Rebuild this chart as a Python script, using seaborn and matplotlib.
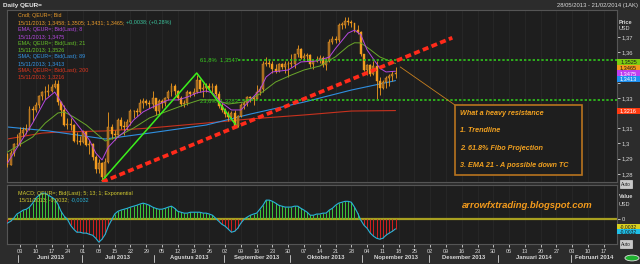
import numpy as np
import pandas as pd
import matplotlib
matplotlib.use("Agg")
import matplotlib.pyplot as plt
import seaborn as sns
from matplotlib.patches import Rectangle, Circle
from matplotlib.transforms import blended_transform_factory as btf

# ---------------- data ----------------
start_date, last_candle, axis_end = "2013-05-28", "2013-11-15", "2014-02-21"

opens = [1.2930,1.2860,1.2940,1.2995,1.2995,1.3070,1.3085,1.3095,1.3225,1.3220,
         1.3255,1.3310,1.3340,1.3335,1.3345,1.3370,1.3390,1.3275,1.3220,1.3120,
         1.3125,1.3120,1.3015,1.3015,1.3010,1.3075,1.2990,1.2995,1.2910,1.2830,
         1.2870,1.2780,1.2880,1.3110,1.3065,1.3055,1.3155,1.3115,1.3110,1.3140,
         1.3215,1.3210,1.3205,1.3265,1.3280,1.3265,1.3260,1.3300,1.3215,1.3280,
         1.3265,1.3300,1.3335,1.3375,1.3345,1.3300,1.3260,1.3265,1.3340,1.3325,
         1.3335,1.3420,1.3355,1.3365,1.3380,1.3365,1.3380,1.3325,1.3245,1.3220,
         1.3195,1.3175,1.3200,1.3115,1.3180,1.3255,1.3265,1.3305,1.3300,1.3295,
         1.3335,1.3360,1.3520,1.3530,1.3525,1.3490,1.3475,1.3520,1.3500,1.3520,
         1.3525,1.3525,1.3585,1.3620,1.3560,1.3575,1.3580,1.3520,1.3545,1.3550,
         1.3565,1.3515,1.3540,1.3670,1.3685,1.3680,1.3780,1.3780,1.3805,1.3800,
         1.3790,1.3745,1.3735,1.3585,1.3485,1.3515,1.3455,1.3510,1.3410,1.3365,
         1.3405,1.3430,1.3445,1.3458]
highs = [1.2940,1.2955,1.3005,1.3060,1.3110,1.3105,1.3125,1.3245,1.3245,1.3270,
         1.3320,1.3345,1.3380,1.3390,1.3390,1.3415,1.3415,1.3280,1.3250,1.3170,
         1.3165,1.3130,1.3075,1.3050,1.3085,1.3080,1.3025,1.3000,1.2925,1.2895,
         1.2880,1.2905,1.3205,1.3125,1.3085,1.3170,1.3175,1.3150,1.3160,1.3225,
         1.3220,1.3230,1.3295,1.3300,1.3290,1.3285,1.3345,1.3300,1.3295,1.3290,
         1.3305,1.3350,1.3400,1.3390,1.3350,1.3315,1.3285,1.3350,1.3345,1.3365,
         1.3452,1.3425,1.3395,1.3395,1.3395,1.3400,1.3390,1.3345,1.3265,1.3230,
         1.3215,1.3215,1.3220,1.3190,1.3265,1.3280,1.3315,1.3315,1.3310,1.3385,
         1.3380,1.3545,1.3570,1.3555,1.3540,1.3525,1.3530,1.3530,1.3540,1.3545,
         1.3590,1.3590,1.3645,1.3625,1.3595,1.3595,1.3590,1.3550,1.3575,1.3580,
         1.3575,1.3560,1.3685,1.3705,1.3705,1.3795,1.3800,1.3830,1.3832,1.3810,
         1.3795,1.3780,1.3740,1.3590,1.3525,1.3525,1.3540,1.3545,1.3440,1.3415,
         1.3445,1.3455,1.3475,1.3505]
lows = [1.2845,1.2860,1.2920,1.2975,1.2985,1.3040,1.3060,1.3085,1.3150,1.3205,
        1.3230,1.3285,1.3295,1.3310,1.3335,1.3365,1.3255,1.3180,1.3115,1.3095,
        1.3085,1.3010,1.2995,1.2990,1.3000,1.2985,1.2930,1.2890,1.2805,1.2805,
        1.2755,1.2770,1.2870,1.3030,1.3025,1.3040,1.3095,1.3055,1.3085,1.3120,
        1.3170,1.3180,1.3200,1.3235,1.3250,1.3230,1.3235,1.3190,1.3190,1.3230,
        1.3245,1.3285,1.3315,1.3320,1.3285,1.3245,1.3240,1.3255,1.3305,1.3315,
        1.3330,1.3335,1.3305,1.3340,1.3355,1.3340,1.3310,1.3235,1.3205,1.3175,
        1.3145,1.3165,1.3105,1.3105,1.3175,1.3225,1.3245,1.3270,1.3255,1.3290,
        1.3320,1.3335,1.3510,1.3500,1.3460,1.3460,1.3470,1.3490,1.3460,1.3440,
        1.3505,1.3495,1.3570,1.3555,1.3540,1.3545,1.3505,1.3490,1.3535,1.3530,
        1.3505,1.3485,1.3535,1.3655,1.3660,1.3670,1.3755,1.3760,1.3780,1.3765,
        1.3735,1.3720,1.3575,1.3475,1.3450,1.3445,1.3450,1.3295,1.3320,1.3355,
        1.3365,1.3375,1.3410,1.3431]
closes = [1.2860,1.2940,1.2995,1.2995,1.3070,1.3085,1.3095,1.3225,1.3220,1.3255,
          1.3310,1.3340,1.3335,1.3345,1.3370,1.3390,1.3275,1.3220,1.3120,1.3125,
          1.3120,1.3015,1.3015,1.3010,1.3075,1.2990,1.2995,1.2910,1.2830,1.2870,
          1.2780,1.2880,1.3110,1.3065,1.3055,1.3155,1.3115,1.3110,1.3140,1.3215,
          1.3210,1.3205,1.3265,1.3280,1.3265,1.3260,1.3300,1.3215,1.3280,1.3265,
          1.3300,1.3335,1.3375,1.3345,1.3300,1.3260,1.3265,1.3340,1.3325,1.3335,
          1.3420,1.3355,1.3365,1.3380,1.3365,1.3380,1.3325,1.3245,1.3220,1.3195,
          1.3175,1.3200,1.3115,1.3180,1.3255,1.3265,1.3305,1.3300,1.3295,1.3335,
          1.3360,1.3520,1.3530,1.3525,1.3490,1.3475,1.3520,1.3500,1.3520,1.3525,
          1.3525,1.3585,1.3620,1.3560,1.3575,1.3580,1.3520,1.3545,1.3550,1.3565,
          1.3515,1.3540,1.3670,1.3685,1.3680,1.3780,1.3780,1.3805,1.3800,1.3790,
          1.3745,1.3735,1.3585,1.3485,1.3515,1.3455,1.3510,1.3410,1.3365,1.3405,
          1.3430,1.3445,1.3458,1.3465]

ema8_days = [0,4,8,12,15,18,21,24,26,28,30,32,35,37,40,43,46,51,54,57,
             60,63,65,68,71,74,77,80,82,84,89,93,98,102,104,108,110,112,114,116,
             118,120,123]
ema8_vals = [1.2871,1.3003,1.3134,1.3286,1.3338,1.3239,1.3154,1.3075,1.3022,1.2937,
             1.2891,1.2976,1.3042,1.3075,1.3154,1.3207,1.3239,1.3286,1.3286,1.3305,
             1.3332,1.3345,1.3332,1.3266,1.3220,1.3220,1.3286,1.3351,1.3437,1.3470,
             1.3483,1.3536,1.3542,1.3568,1.3625,1.3726,1.3745,1.3715,1.3615,1.3555,
             1.3495,1.3470,1.3475]
ema21_days = [0,8,12,16,18,21,25,28,31,34,40,45,50,56,61,66,70,75,80,85,
              90,94,99,104,108,110,112,115,118,123]
ema21_vals = [1.2943,1.3042,1.3134,1.3200,1.3207,1.3174,1.3121,1.3068,1.3016,1.3036,
              1.3101,1.3167,1.3207,1.3253,1.3286,1.3286,1.3259,1.3272,1.3325,1.3404,
              1.3450,1.3483,1.3509,1.3570,1.3640,1.3662,1.3661,1.3617,1.3569,1.3526]
sma89_days = [0,13,31,45,63,77,94,109,123]
sma89_vals = [1.3108,1.3082,1.3029,1.3068,1.3121,1.3193,1.3272,1.3351,1.3413]
sma200_days = [0,11,17,31,45,63,77,94,109,123]
sma200_vals = [1.3029,1.3068,1.3075,1.3082,1.3101,1.3134,1.3161,1.3187,1.3213,1.3216]

# MACD histogram, in units of 1e-4
macd_e4 = [-13,-7,3,17,23,30,33,40,53,69,79,86,86,79,73,66,50,26,10,0,
           -20,-33,-43,-43,-46,-46,-50,-53,-63,-76,-66,-50,-23,-3,17,26,30,33,36,40,
           43,46,50,53,50,46,40,36,33,33,36,40,43,36,26,23,20,20,23,23,
           23,23,20,20,17,13,3,-7,-17,-23,-33,-43,-40,-30,-13,0,7,13,17,20,
           33,46,63,63,59,53,46,43,40,40,40,43,43,36,30,23,13,13,17,17,
           20,20,30,36,46,53,56,59,59,56,40,20,-3,-20,-30,-46,-56,-63,-66,-63,
           -53,-46,-40,-32]

fib_levels = [("61,8%", 1.3547), ("23,6%", 1.3283)]
fib_proj_days = [30, 60, 73]
fib_proj_vals = [1.2755, 1.3463, 1.3105]
trend_days = [30, 141]
trend_vals = [1.2746, 1.3695]

price_ticks = [1.28, 1.29, 1.30, 1.31, 1.32, 1.33, 1.34, 1.35, 1.36, 1.37]
hidden_ticks = [1.32, 1.34, 1.35]          # covered by the value tags in the reference
last_vals = {"ema21": 1.3525, "cndl": 1.3465, "ema8": 1.3475, "sma89": 1.3413, "sma200": 1.3216}
macd_last = -0.0032
month_names = {6: "Juni 2013", 7: "Juli 2013", 8: "Agustus 2013", 9: "September 2013",
               10: "Oktober 2013", 11: "Nopember 2013", 12: "Desember 2013",
               1: "Januari 2014", 2: "Februari 2014"}
note_lines = ["What a heavy resistance", "1. Trendline", "2. 61.8% Fibo Projection",
              "3. EMA 21 - A possible down TC"]

# ---------------- style ----------------
C_FIG = "#2c2c2c"; C_AX = "#1e1e1e"; C_GRID = "#2a2a2a"; C_SP = "#555555"
C_ORANGE = "#f39c1f"; C_UP = "#9a6424"; C_PURPLE = "#b548e0"; C_GREEN = "#6aa82a"
C_BLUE = "#2f8fe0"; C_RED = "#c8321e"; C_TXT = "#d8d8d8"

sns.set_theme(style="dark", rc={"axes.facecolor": C_AX, "figure.facecolor": C_FIG,
                                "axes.edgecolor": C_SP, "grid.color": C_GRID})
plt.rcParams['font.family'] = ['Liberation Sans', 'DejaVu Sans']

W, H = 640, 264
def fx(p): return p / W
def fy(p): return 1 - p / H

fig = plt.figure(figsize=(6.4, 2.64), dpi=100, facecolor=C_FIG)
ax = fig.add_axes([fx(7), fy(182), fx(617) - fx(7), fy(10) - fy(182)])
axm = fig.add_axes([fx(7), fy(244), fx(617) - fx(7), fy(185) - fy(244)])

dates = pd.bdate_range(start_date, last_candle)
axis_dates = pd.bdate_range(start_date, axis_end)
idx = np.arange(len(dates))
xlim = (-0.13, len(axis_dates) - 0.8)
mondays = [i for i, d in enumerate(axis_dates) if d.weekday() == 0]

for a in (ax, axm):
    a.set_facecolor(C_AX)
    a.set_xlim(*xlim)
    a.set_xticks(mondays)
    a.grid(axis="x", color=C_GRID, lw=0.5)
    a.grid(axis="y", visible=False)
    for s in a.spines.values():
        s.set_color(C_SP); s.set_linewidth(0.8)

# ---------------- price panel ----------------
o = np.array(opens); c = np.array(closes); h = np.array(highs); l = np.array(lows)
up = c >= o
ax.vlines(idx, l, h, color=C_ORANGE, lw=0.6, zorder=3)
body = np.maximum(np.abs(c - o), 0.00025)
ax.bar(idx[up], body[up], bottom=np.minimum(o, c)[up], width=0.62,
       color=C_UP, edgecolor=C_ORANGE, lw=0.3, zorder=4)
ax.bar(idx[~up], body[~up], bottom=np.minimum(o, c)[~up], width=0.62,
       color=C_ORANGE, edgecolor=C_ORANGE, lw=0.3, zorder=4)

sns.lineplot(x=sma200_days, y=sma200_vals, ax=ax, color=C_RED, lw=0.8, zorder=2)
sns.lineplot(x=sma89_days, y=sma89_vals, ax=ax, color=C_BLUE, lw=0.8, zorder=2)
sns.lineplot(x=ema21_days, y=ema21_vals, ax=ax, color=C_GREEN, lw=0.7, zorder=5)
sns.lineplot(x=ema8_days, y=ema8_vals, ax=ax, color=C_PURPLE, lw=0.7, zorder=5)

# fibonacci projection + levels
ax.plot(fib_proj_days, fib_proj_vals, color="#3cf01c", lw=1.1, zorder=6)
for name, lv in fib_levels:
    ax.hlines(lv, 73, xlim[1], color="#30c81c", lw=1.2, ls=(0, (1.4, 1.2)), zorder=6)
    ax.text(61, lv, f"{name}  {lv:.4f}".replace(".", ","), color="#3ad020",
            fontsize=4.2, va="center", ha="left", zorder=7)

# trendline
ax.plot(trend_days, trend_vals, color="#ff2a1a", lw=2.7, ls=(0, (1.6, 0.9)), zorder=7)

# annotation box
ax.plot([124.5, 141.8], [1.3503, 1.3253], color="#c8801e", lw=0.6, zorder=6)
ax.add_patch(Rectangle((141.8, 1.2793), 40.3, 1.3253 - 1.2793, fc=C_AX,
                       ec="#b8741e", lw=1.2, zorder=8))
for t, yv in zip(note_lines, [1.3195, 1.3083, 1.2965, 1.2852]):
    ax.text(143.4, yv, t, color="#f0a020", fontsize=5.2, fontstyle="italic",
            fontweight="bold", va="center", ha="left", zorder=9)

ax.set_ylim(1.27461, 1.38776)
ax.yaxis.tick_right()
ax.set_yticks(price_ticks)
ax.set_yticklabels(["" if v in hidden_ticks else f"{v:.2f}".rstrip("0").replace(".", ",")
                    for v in price_ticks])
ax.tick_params(axis="y", colors=C_TXT, labelsize=4.2, length=2.5, width=0.6, pad=1,
               right=True, labelright=True)
ax.tick_params(axis="x", length=0, labelbottom=False)
ax.set_xlabel(""); ax.set_ylabel("")

# value tags on the price axis
tr = btf(ax.transAxes, ax.transData)
bw = 23 / 610; bh = 6 / 1520
tags = [("ema21", "#7ccc10", "#1a1a1a"), ("cndl", "#f29a1c", "#1a1a1a"),
        ("ema8", "#c040f0", "#ffffff"), ("sma89", "#1e90f0", "#ffffff")]
top = 1.3536
for k, (key, fc, tc) in enumerate(tags):
    yc = top - k * bh * 0.95
    ax.add_patch(Rectangle((1.0, yc - bh / 2), bw, bh, transform=tr, fc=fc, ec="none",
                           clip_on=False, zorder=10))
    ax.text(1.0 + bw / 2, yc, f"{last_vals[key]:.4f}".replace(".", ","), transform=tr,
            color=tc, fontsize=4.0, ha="center", va="center", clip_on=False, zorder=11)
yc = last_vals["sma200"]
ax.add_patch(Rectangle((1.0, yc - bh / 2), bw, bh, transform=tr, fc="#ff3a10", ec="none",
                       clip_on=False, zorder=10))
ax.text(1.0 + bw / 2, yc, f"{yc:.4f}".replace(".", ","), transform=tr, color="#ffffff",
        fontsize=4.0, ha="center", va="center", clip_on=False, zorder=11)

# ---------------- MACD panel ----------------
macd = np.array(macd_e4) / 1e4
pos = macd >= 0
axm.vlines(idx[pos], 0, macd[pos], color="#3cc83c", lw=0.7, zorder=3)
axm.vlines(idx[~pos], 0, macd[~pos], color="#d42020", lw=0.7, zorder=3)
axm.axhline(0, color="#a8a020", lw=1.6, zorder=2)
sns.lineplot(x=idx, y=macd, ax=axm, color="#28b4d8", lw=0.8, zorder=4)
axm.set_ylim(-0.0082, 0.0113)
axm.yaxis.tick_right()
axm.set_yticks([0])
axm.set_yticklabels(["0"])
axm.tick_params(axis="y", colors=C_TXT, labelsize=4.2, length=2.5, width=0.6, pad=1)
axm.set_xticklabels([f"{axis_dates[i].day:02d}" for i in mondays])
axm.tick_params(axis="x", colors=C_TXT, labelsize=4.0, length=2, width=0.6, pad=1.5,
                bottom=True)
axm.set_xlabel(""); axm.set_ylabel("")
trm = btf(axm.transAxes, axm.transData)
mh = 5 * (0.0195 / 59)
for yc, fc, tc in [(macd_last + mh / 2, "#d8d020", "#1a1a1a"), (macd_last - mh / 2, "#20c0e8", "#1a1a1a")]:
    axm.add_patch(Rectangle((1.0, yc - mh / 2), bw, mh, transform=trm, fc=fc, ec="none",
                            clip_on=False, zorder=10))
    axm.text(1.0 + bw / 2, yc, f"{macd_last:.4f}".replace(".", ","), transform=trm,
             color=tc, fontsize=3.6, ha="center", va="center", clip_on=False, zorder=11)

# month labels and separators
trx = btf(axm.transData, axm.transAxes)
months = pd.Series(np.arange(len(axis_dates)), index=axis_dates)
for (yr, mo), grp in months.groupby([axis_dates.year, axis_dates.month]):
    if mo not in month_names or (yr == 2013 and mo < 6) or (yr == 2014 and mo > 2):
        continue
    first, last = grp.iloc[0], grp.iloc[-1]
    axm.text((first + last) / 2, -0.235, month_names[mo], transform=trx, color=C_TXT,
             fontsize=4.2, fontweight="bold", ha="center", va="center", clip_on=False)
    axm.plot([first - 0.5, first - 0.5], [-0.19, -0.30], transform=trx, color="#bbbbbb",
             lw=0.7, clip_on=False)

axm.text(144, 0.0044, "arrowfxtrading.blogspot.com", color="#f29a1c", fontsize=6.8,
         fontweight="bold", fontstyle="italic", ha="left", va="center", zorder=9)

# ---------------- header / legend texts ----------------
fig.text(fx(3), fy(5), "Daily QEUR=", color="#e8e8e8", fontsize=4.6, fontweight="bold",
         va="center", ha="left")
fig.text(fx(638), fy(5), "28/05/2013 - 21/02/2014 (1AK)", color=C_TXT, fontsize=4.2,
         va="center", ha="right")

renderer = fig.canvas.get_renderer()
def text_run(x_px, y_px, parts, size=3.9):
    """Draw coloured text segments one after another on a line."""
    x = fx(x_px)
    for t, col in parts:
        tt = fig.text(x, fy(y_px), t, color=col, fontsize=size, va="center", ha="left")
        bb = tt.get_window_extent(renderer=renderer)
        x = (bb.x1 + 2.0) / W

legend = [[("Cndl; QEUR=; Bid", "#e89a2a")],
          [("15/11/2013; 1,3458; 1,3505; 1,3431; 1,3465;", "#e89a2a"),
           ("+0,0038; (+0,28%)", "#3cc8a0")],
          [("EMA; QEUR=; Bid(Last); 8", C_PURPLE)], [("15/11/2013; 1,3475", C_PURPLE)],
          [("EMA; QEUR=; Bid(Last); 21", "#66c22a")], [("15/11/2013; 1,3526", "#66c22a")],
          [("SMA; QEUR=; Bid(Last); 89", "#3496e8")], [("15/11/2013; 1,3413", "#3496e8")],
          [("SMA; QEUR=; Bid(Last); 200", "#e0361e")], [("15/11/2013; 1,3216", "#e0361e")]]
for k, parts in enumerate(legend):
    text_run(18, 16 + k * 6.8, parts)
text_run(18, 193, [("MACD; QEUR=; Bid(Last); 5; 13; 1; Exponential", "#d4cc30")])
text_run(19, 199.5, [("15/11/2013; -0,0032;", "#d4cc30"), ("-0,0032", "#28b4d8")])

for yy, t in [(22, "Price"), (29, "USD"), (197, "Value"), (204, "USD")]:
    fig.text(fx(619), fy(yy), t, color=C_TXT, fontsize=4.0, va="center", ha="left",
             fontweight="bold" if t != "USD" else "normal")
for yy in (184, 244):
    fig.text(fx(626), fy(yy), "Auto", color="#202020", fontsize=3.4, va="center",
             ha="center", bbox=dict(boxstyle="square,pad=0.25", fc="#c8c8c8", ec="#eeeeee", lw=0.4))
fig.patches.append(Circle((fx(632), fy(258)), 0.011, transform=fig.transFigure,
                          fc="#20b030", ec="#e0e0e0", lw=0.6))

fig.savefig("out.png", dpi=100, facecolor=C_FIG)
